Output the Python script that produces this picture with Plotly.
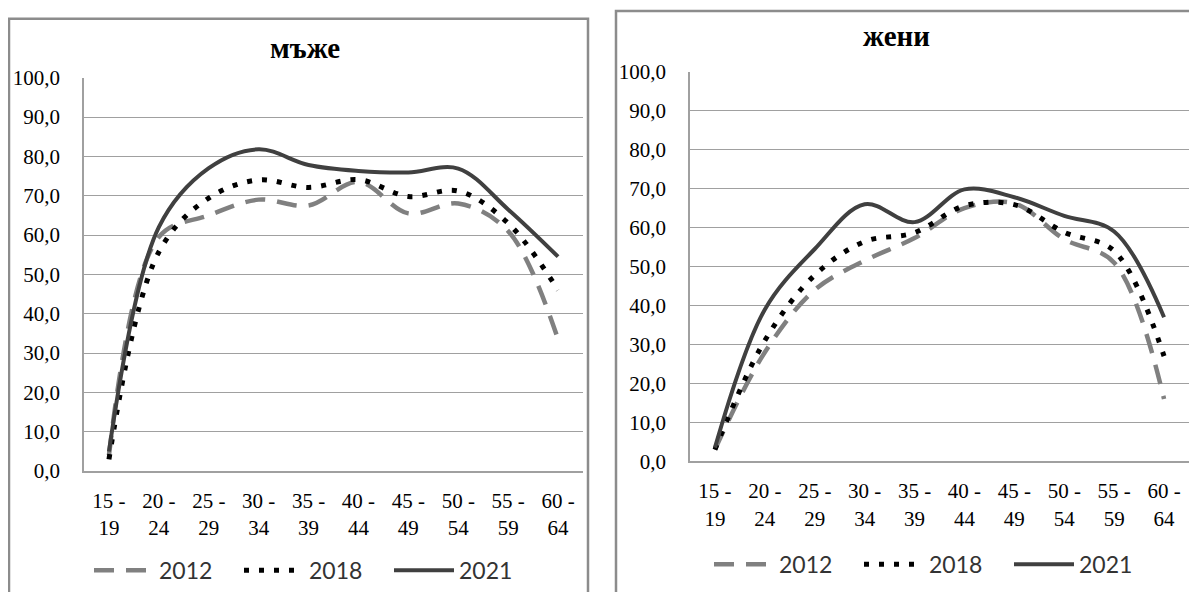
import plotly.graph_objects as go

age_groups = ["15 -<br>19", "20 -<br>24", "25 -<br>29", "30 -<br>34", "35 -<br>39",
              "40 -<br>44", "45 -<br>49", "50 -<br>54", "55 -<br>59", "60 -<br>64"]
years = ["2012", "2018", "2021"]

men_2012 = [4.0, 59.5, 65.0, 69.0, 67.5, 73.5, 65.5, 68.0, 61.0, 33.5]
men_2018 = [3.0, 55.7, 69.4, 74.0, 72.1, 74.1, 69.8, 71.2, 63.0, 46.0]
men_2021 = [5.0, 62.0, 77.0, 81.8, 77.8, 76.3, 75.9, 76.9, 66.5, 54.5]

women_2012 = [3.0, 28.0, 44.0, 51.5, 57.3, 65.0, 66.2, 57.0, 51.0, 16.0]
women_2018 = [3.0, 31.0, 47.8, 56.4, 58.7, 65.6, 65.9, 58.8, 54.0, 27.0]
women_2021 = [3.5, 39.0, 54.5, 66.0, 61.4, 69.8, 67.8, 63.0, 59.0, 37.0]

# figure sized so that it fits in the 1197x600 window with the 8px body margin
OFF = 8
W, H = 1197 - 2 * OFF, 600 - 2 * OFF
SERIF = "Liberation Serif, Times New Roman, serif"

styles = {
    "2012": dict(color="#808080", width=4.5, dash="20px,12px"),
    "2018": dict(color="#000000", width=5, dash="5px,10px"),
    "2021": dict(color="#404040", width=4, dash="solid"),
}


def px_x(v):
    return (v - OFF) / W


def px_y(v):
    return 1 - (v - OFF) / H


fig = go.Figure()

panels = [
    ("x", "y", "legend", [men_2012, men_2018, men_2021]),
    ("x2", "y2", "legend2", [women_2012, women_2018, women_2021]),
]
for xa, ya, leg, series in panels:
    for year, values in zip(years, series):
        fig.add_trace(
            go.Scatter(
                x=age_groups,
                y=values,
                mode="lines",
                name=year,
                line=dict(shape="spline", smoothing=1.0, **styles[year]),
                xaxis=xa,
                yaxis=ya,
                legend=leg,
            )
        )

axis_common = dict(
    showline=True,
    linecolor="#a0a0a0",
    linewidth=1.5,
    tickfont=dict(family=SERIF, size=21, color="#000000"),
    ticks="",
    zeroline=False,
    automargin=False,
    fixedrange=True,
)
xaxis = dict(axis_common, showgrid=False, type="category", range=[-0.5, 9.5],
             ticklabelstandoff=10)
yaxis = dict(axis_common, showgrid=True, gridcolor="#a0a0a0", gridwidth=1.2,
             range=[0, 100], dtick=10, tickformat=".1f", ticklabelstandoff=18)

legend_common = dict(
    orientation="h", xanchor="left", yanchor="middle",
    font=dict(family="Lato, sans-serif", size=23, color="#333333"),
    bgcolor="rgba(0,0,0,0)", itemwidth=60, entrywidth=75, tracegroupgap=0,
)

fig.update_layout(
    width=W,
    height=H,
    margin=dict(l=0, r=0, t=0, b=0),
    paper_bgcolor="white",
    plot_bgcolor="white",
    separators=", ",
    xaxis=dict(xaxis, domain=[px_x(84), px_x(583)], anchor="y"),
    yaxis=dict(yaxis, domain=[px_y(480), px_y(79)], anchor="x"),
    xaxis2=dict(xaxis, domain=[px_x(690), 1.0], anchor="y2"),
    yaxis2=dict(yaxis, domain=[px_y(470), px_y(73)], anchor="x2"),
    legend=dict(legend_common, x=px_x(89), y=px_y(581)),
    legend2=dict(legend_common, x=px_x(709), y=px_y(575)),
    showlegend=True,
)

# panel frames
fig.add_shape(type="rect", xref="paper", yref="paper",
              x0=px_x(9), x1=px_x(588), y0=-0.05, y1=px_y(19),
              line=dict(color="#8c8c8c", width=2.5))
fig.add_shape(type="rect", xref="paper", yref="paper",
              x0=px_x(616), x1=1.05, y0=-0.05, y1=px_y(11),
              line=dict(color="#8c8c8c", width=2.5))

# panel titles
for text, cx, cy in [("мъже", 305, 49), ("жени", 896, 37)]:
    fig.add_annotation(
        x=px_x(cx), y=px_y(cy), xref="paper", yref="paper",
        xanchor="center", yanchor="middle",
        text=f"<b>{text}</b>", showarrow=False,
        font=dict(family=SERIF, size=29, color="#000000"),
    )

fig.write_html("out.html")
